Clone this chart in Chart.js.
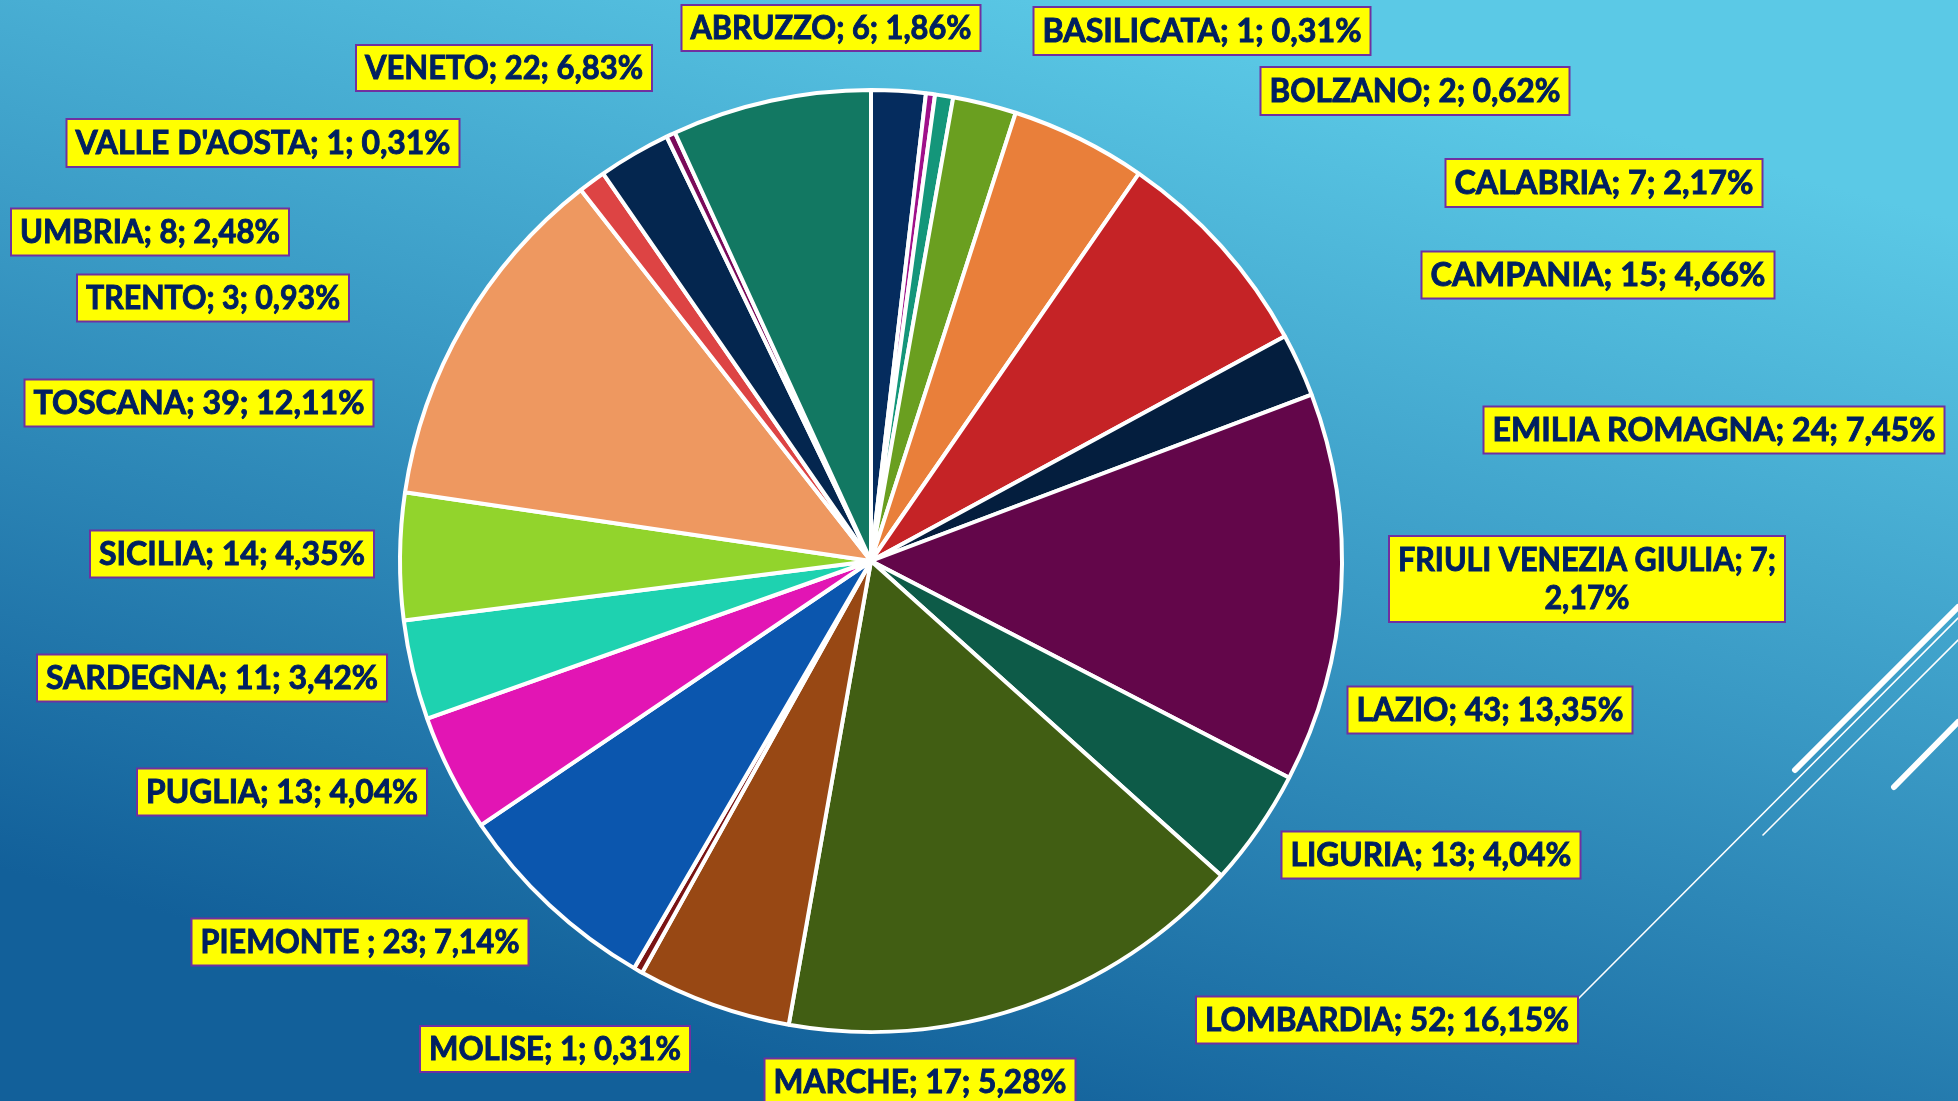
<!DOCTYPE html>
<html>
<head>
<meta charset="utf-8">
<title>Regioni</title>
<script src="https://cdn.jsdelivr.net/npm/chart.js@4/dist/chart.umd.min.js"></script>
<style>
    html, body { margin: 0; padding: 0; overflow: hidden; }
    #wrap { position: relative; width: 1958px; height: 1101px; }
</style>
</head>
<body>
<div id="wrap"><canvas id="myChart" width="1958" height="1101"></canvas></div>
<script>
// Data
const regions = ['ABRUZZO', 'BASILICATA', 'BOLZANO', 'CALABRIA', 'CAMPANIA', 'EMILIA ROMAGNA',
    'FRIULI VENEZIA GIULIA', 'LAZIO', 'LIGURIA', 'LOMBARDIA', 'MARCHE', 'MOLISE', 'PIEMONTE ',
    'PUGLIA', 'SARDEGNA', 'SICILIA', 'TOSCANA', 'TRENTO', 'UMBRIA', "VALLE D'AOSTA", 'VENETO'];
const counts = [6, 1, 2, 7, 15, 24, 7, 43, 13, 52, 17, 1, 23, 13, 11, 14, 39, 3, 8, 1, 22];

const sliceColors = ['#052c5e', '#a0108a', '#14967a', '#6a9f20', '#e97f3a', '#c52326',
    '#041e3e', '#63064a', '#0d5b48', '#415e13', '#984814', '#7a1414', '#0b56ae',
    '#e215b4', '#1ed2b0', '#92d42c', '#ee9860', '#dd4444', '#04264f', '#7a0a5a', '#127862'];

// Label boxes: center x, center y, width, height (same order as regions)
const labelBoxes = [
    [831, 28, 299, 46], [1202, 31, 337, 48], [1415, 91, 309, 48], [1604, 183, 317, 48],
    [1598, 275, 353, 47], [1714, 430, 461, 47], [1587, 579, 396, 86], [1490, 710, 285, 47],
    [1431, 855, 299, 47], [1387, 1020, 382, 47], [920, 1082, 311, 47], [555, 1049, 270, 46],
    [360, 942, 337, 47], [282, 792, 290, 47], [212, 678, 350, 47], [232, 554, 284, 47],
    [199, 403, 349, 47], [213, 298, 272, 47], [150, 232, 278, 47], [263, 143, 393, 48],
    [504, 68, 296, 46]
];

const total = counts.reduce((a, b) => a + b, 0);

function labelText(i) {
    const pct = (counts[i] / total * 100).toFixed(2).replace('.', ',');
    return regions[i] + '; ' + counts[i] + '; ' + pct + '%';
}

// Slide background + the white strokes on the right
const slideBackground = {
    id: 'slideBackground',
    beforeDraw(chart) {
        const ctx = chart.ctx;
        const w = chart.width, h = chart.height;
        ctx.save();
        const g = ctx.createLinearGradient(1150, 0, 850, h);
        g.addColorStop(0, '#5bc9e6');
        g.addColorStop(0.45, '#3a9ac5');
        g.addColorStop(1, '#12609a');
        ctx.fillStyle = g;
        ctx.fillRect(0, 0, w, h);

        ctx.strokeStyle = '#ffffff';
        ctx.lineCap = 'round';
        const strokes = [
            [1958, 607, 1795, 770, 6],
            [1958, 618, 1577, 1000, 1.6],
            [1958, 640, 1763, 835, 1.6],
            [1958, 722, 1894, 787, 6]
        ];
        strokes.forEach(s => {
            ctx.lineWidth = s[4];
            ctx.beginPath();
            ctx.moveTo(s[0], s[1]);
            ctx.lineTo(s[2], s[3]);
            ctx.stroke();
        });
        ctx.restore();
    }
};

// Yellow boxed data labels
const boxLabels = {
    id: 'boxLabels',
    afterDatasetsDraw(chart) {
        const ctx = chart.ctx;
        ctx.save();
        ctx.font = 'bold 32px Lato';
        ctx.textBaseline = 'middle';
        ctx.textAlign = 'center';
        labelBoxes.forEach((b, i) => {
            const [cx, cy, w, h] = b;
            ctx.fillStyle = '#ffff00';
            ctx.fillRect(cx - w / 2, cy - h / 2, w, h);
            ctx.strokeStyle = '#7030a0';
            ctx.lineWidth = 2;
            ctx.strokeRect(cx - w / 2, cy - h / 2, w, h);

            // two lines when the box is tall
            let lines = [labelText(i)];
            if (h > 60) {
                const t = labelText(i);
                const cut = t.lastIndexOf(' ');
                lines = [t.slice(0, cut), t.slice(cut + 1)];
            }
            const widest = Math.max(...lines.map(l => ctx.measureText(l).width));
            const sx = (w - 18) / widest;
            const step = 38;
            ctx.fillStyle = '#002060';
            ctx.strokeStyle = '#002060';
            ctx.lineWidth = 0.9;
            lines.forEach((l, k) => {
                const y = cy + (k - (lines.length - 1) / 2) * step + 1;
                ctx.save();
                ctx.translate(cx, y);
                ctx.scale(sx, 1);
                ctx.fillText(l, 0, 0);
                ctx.strokeText(l, 0, 0);
                ctx.restore();
            });
        });
        ctx.restore();
    }
};

const ctx = document.getElementById('myChart').getContext('2d');
const myChart = new Chart(ctx, {
    type: 'pie',
    data: {
        labels: regions,
        datasets: [{
            data: counts,
            backgroundColor: sliceColors,
            borderColor: '#ffffff',
            borderWidth: 4
        }]
    },
    options: {
        responsive: false,
        animation: false,
        devicePixelRatio: 1,
        layout: {
            padding: { left: 398, top: 88, right: 614, bottom: 67 }
        },
        plugins: {
            legend: { display: false },
            tooltip: { enabled: false }
        }
    },
    plugins: [slideBackground, boxLabels]
});
</script>
</body>
</html>
